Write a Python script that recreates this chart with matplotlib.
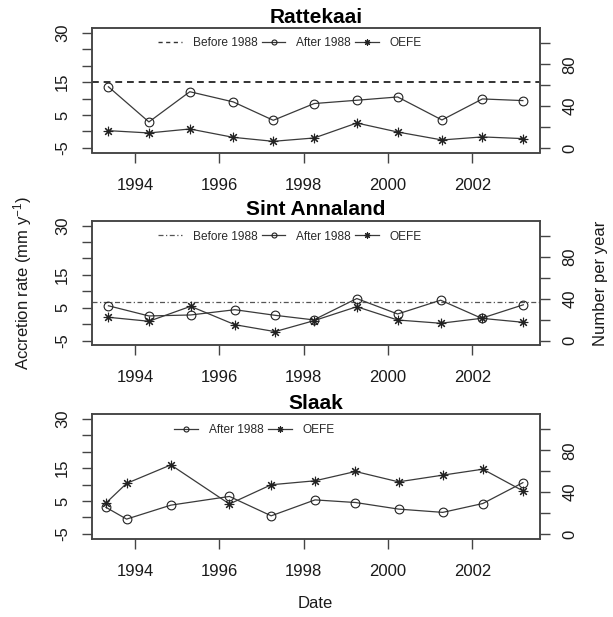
import matplotlib
matplotlib.use("Agg")
import matplotlib.pyplot as plt
from matplotlib.lines import Line2D

plt.rcParams['font.family'] = ['Liberation Sans', 'DejaVu Sans']
plt.rcParams['mathtext.fontset'] = 'custom'
plt.rcParams['mathtext.rm'] = 'Liberation Sans'
plt.rcParams['mathtext.it'] = 'Liberation Sans:italic'

# Survey dates (decimal years) and series per site
dates_rattekaai = [1993.37, 1994.33, 1995.30, 1996.33, 1997.28, 1998.25,
                   1999.26, 2000.23, 2001.28, 2002.24, 2003.20]
after_rattekaai = [13.6, 2.9, 12.1, 9.0, 3.4, 8.5, 9.5, 10.5, 3.5, 9.9, 9.4]
oefe_rattekaai = [16.5, 14.3, 18.1, 10.1, 6.3, 9.5, 23.8, 15.2, 7.6, 10.5, 8.9]
before_rattekaai = 15.0

dates_sint = [1993.37, 1994.33, 1995.32, 1996.37, 1997.32, 1998.24,
              1999.26, 2000.23, 2001.25, 2002.22, 2003.21]
after_sint = [5.6, 2.5, 2.8, 4.4, 2.7, 1.3, 7.8, 3.1, 7.3, 1.8, 5.9]
oefe_sint = [22.3, 18.5, 32.8, 15.2, 8.6, 19.0, 32.4, 19.7, 16.6, 21.3, 17.5]
before_sint = 6.6

dates_slaak = [1993.31, 1993.80, 1994.85, 1996.24, 1997.23, 1998.27,
               1999.23, 2000.25, 2001.30, 2002.25, 2003.20]
after_slaak = [3.1, -0.5, 3.75, 6.4, 0.5, 5.35, 4.55, 2.55, 1.55, 4.25, 10.6]
oefe_slaak = [29.5, 48.3, 66.0, 28.6, 47.0, 50.8, 59.7, 49.8, 56.2, 61.9, 41.2]

sites = ["Rattekaai", "Sint Annaland", "Slaak"]
year_ticks = [1994, 1996, 1998, 2000, 2002]
left_ticks = [-5, 0, 5, 10, 15, 20, 25, 30]
left_labels = ["-5", "", "5", "", "15", "", "", "30"]
right_ticks = [0, 20, 40, 60, 80, 100]
right_labels = ["0", "", "40", "", "80", ""]

W, H = 613, 617
fig = plt.figure(figsize=(W / 100, H / 100), dpi=100)

LINE = '#3a3a3a'
MARK = '#222222'
AX = '#444444'

box_left, box_right = 91.7, 539.7
box_tops = [28.3, 221.0, 414.3]
box_h = 124.2

star = (8, 2, 0)


def make_axes(top):
    rect = [box_left / W, 1 - (top + box_h) / H,
            (box_right - box_left) / W, box_h / H]
    ax = fig.add_axes(rect)
    ax2 = ax.twinx()
    ax.set_xlim(1992.973, 2003.599)
    ax.set_ylim(-6.4, 31.4)
    ax2.set_ylim(-4.4, 114.4)
    ax.set_xticks(year_ticks)
    ax.set_xticklabels([str(y) for y in year_ticks])
    ax.set_yticks(left_ticks)
    ax.set_yticklabels(left_labels, rotation=90, va='center')
    ax2.set_yticks(right_ticks)
    ax2.set_yticklabels(right_labels, rotation=90, va='center')
    ax.tick_params(axis='x', length=7.5, width=1, color=AX, pad=10.5,
                   labelsize=12, labelcolor='#1a1a1a')
    ax.tick_params(axis='y', length=7.5, width=1, color=AX, pad=8,
                   labelsize=12, labelcolor='#1a1a1a')
    ax2.tick_params(axis='y', length=7.5, width=1, color=AX, pad=9,
                    labelsize=12, labelcolor='#1a1a1a')
    for a in (ax, ax2):
        for s in a.spines.values():
            s.set_color(AX)
            s.set_linewidth(1.1)
    return ax, ax2


def draw_legend(ax2, handles, labels, x0, y0):
    leg = ax2.legend(handles, labels, loc='center left',
                     bbox_to_anchor=(x0, y0), ncol=len(handles),
                     frameon=False, fontsize=8.6, borderpad=0,
                     borderaxespad=0, handlelength=2.0, handletextpad=0.9,
                     columnspacing=0.35)
    for t in leg.get_texts():
        t.set_color('#2a2a2a')
    return leg


h_after = Line2D([], [], color=LINE, lw=0.9, marker='o', ms=3.6,
                 mfc='none', mec=MARK, mew=0.8)
h_oefe = Line2D([], [], color=LINE, lw=0.9, marker=star, ms=4.5,
                mec=MARK, mew=0.8)

# Rattekaai
ax, ax2 = make_axes(box_tops[0])
ax.axhline(before_rattekaai, color='#333333', lw=1.4, ls=(0, (3.5, 2.5)))
ax.plot(dates_rattekaai, after_rattekaai, color=LINE, lw=0.9, marker='o',
        ms=6.3, mfc='none', mec=MARK, mew=0.8)
ax2.plot(dates_rattekaai, oefe_rattekaai, color=LINE, lw=0.9, marker=star,
         ms=6.8, mec=MARK, mew=0.8)
ax.set_title(sites[0], fontsize=15, fontweight='bold', pad=4)
h_before = Line2D([], [], color='#333333', lw=1.0, ls=(0, (3, 2.5)))
draw_legend(ax2, [h_before, h_after, h_oefe],
            ["Before 1988", "After 1988", "OEFE"], 0.148, 0.879)

# Sint Annaland
ax, ax2 = make_axes(box_tops[1])
ax.axhline(before_sint, color='#555555', lw=0.9, ls=(0, (4, 2, 1, 2)))
ax.plot(dates_sint, after_sint, color=LINE, lw=0.9, marker='o',
        ms=6.3, mfc='none', mec=MARK, mew=0.8)
ax2.plot(dates_sint, oefe_sint, color=LINE, lw=0.9, marker=star,
         ms=6.8, mec=MARK, mew=0.8)
ax.set_title(sites[1], fontsize=15, fontweight='bold', pad=4)
h_before2 = Line2D([], [], color='#555555', lw=0.9, ls=(0, (4, 2, 1, 2)))
draw_legend(ax2, [h_before2, h_after, h_oefe],
            ["Before 1988", "After 1988", "OEFE"], 0.148, 0.874)

# Slaak
ax, ax2 = make_axes(box_tops[2])
ax.plot(dates_slaak, after_slaak, color=LINE, lw=0.9, marker='o',
        ms=6.3, mfc='none', mec=MARK, mew=0.8)
ax2.plot(dates_slaak, oefe_slaak, color=LINE, lw=0.9, marker=star,
         ms=6.8, mec=MARK, mew=0.8)
ax.set_title(sites[2], fontsize=15, fontweight='bold', pad=4)
draw_legend(ax2, [h_after, h_oefe], ["After 1988", "OEFE"], 0.184, 0.874)

# Shared axis titles
fig.text(22.7 / W, 1 - 283 / H, "Accretion rate (mm y$^{-1}$)", rotation=90,
         ha='center', va='center', fontsize=12, color='#1a1a1a')
fig.text(600 / W, 1 - 283 / H, "Number per year", rotation=90,
         ha='center', va='center', fontsize=12, color='#1a1a1a')
fig.text((box_left + box_right) / 2 / W, 1 - 604 / H, "Date",
         ha='center', va='center', fontsize=12, color='#1a1a1a')

fig.savefig("out.png", dpi=100)
